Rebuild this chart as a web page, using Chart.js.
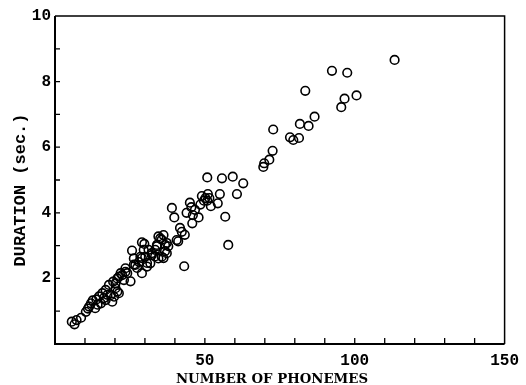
<!DOCTYPE html>
<html>
<head>
<meta charset="utf-8">
<script src="https://cdn.jsdelivr.net/npm/chart.js@4"></script>
<style>
html,body{margin:0;padding:0;background:#fff;}
#wrap{width:526px;height:385px;}
</style>
</head>
<body>
<div id="wrap"><canvas id="c" width="526" height="385"></canvas></div>
<script>
const phonemes = [
  5.6, 6.5, 7.2, 8.7, 10.3, 11.0, 11.4, 12.0, 12.6, 13.4, 13.8, 14.2, 14.7, 15.3, 15.8, 16.3,
  16.9, 16.9, 17.5, 18.0, 18.6, 19.1, 19.4, 19.7, 20.2, 20.2, 20.8, 20.8, 21.3, 21.3, 21.9, 22.4,
  23.0, 23.5, 23.5, 24.1, 25.2, 25.7, 26.3, 26.3, 26.8, 27.4, 28.0, 28.5, 29.0, 29.0, 29.0, 29.6,
  29.8, 30.1, 30.7, 30.7, 31.2, 31.8, 32.3, 32.3, 33.4, 33.4, 34.0, 34.0, 34.5, 34.5, 35.1, 35.6,
  35.6, 36.2, 36.2, 36.7, 36.7, 37.3, 37.3, 37.8,
  39.0, 39.8, 40.6, 41.1, 41.7, 42.3, 43.1, 43.3, 43.9, 45.0, 45.5, 45.8, 46.0, 46.7, 47.9, 48.5,
  49.0, 49.7, 50.2, 50.8, 51.0, 50.8, 51.5, 52.0, 54.3, 55.0, 55.7, 56.8, 57.8, 59.3, 60.7, 62.8,
  69.5, 69.8, 71.5, 72.6, 72.8, 78.4, 79.5, 81.4, 81.7, 83.5, 84.6, 86.6, 92.4, 95.5, 96.6, 97.5,
  100.6, 113.3
];
const durations = [
  0.68, 0.60, 0.73, 0.80, 0.98, 1.08, 1.14, 1.24, 1.33, 1.09, 1.36, 1.20, 1.45, 1.24, 1.55, 1.40,
  1.34, 1.65, 1.50, 1.80, 1.49, 1.29, 1.90, 1.44, 1.70, 1.85, 2.00, 1.60, 1.55, 2.05, 2.16, 2.10,
  1.95, 2.20, 2.31, 2.16, 1.91, 2.85, 2.42, 2.61, 2.41, 2.32, 2.50, 2.66, 2.16, 2.62, 3.10, 2.87,
  3.05, 2.66, 2.36, 2.47, 2.87, 2.46, 2.71, 2.77, 2.67, 2.87, 2.98, 3.02, 2.61, 3.28, 3.22, 2.66,
  3.18, 3.32, 2.62, 2.83, 3.02, 3.08, 2.77, 2.98,
  4.15, 3.86, 3.17, 3.13, 3.54, 3.42, 2.37, 3.33, 4.00, 4.31, 4.17, 3.68, 3.93, 4.09, 3.86, 4.25,
  4.51, 4.37, 4.45, 4.37, 4.57, 5.08, 4.45, 4.20, 4.29, 4.57, 5.05, 3.88, 3.02, 5.10, 4.57, 4.90,
  5.40, 5.51, 5.62, 5.89, 6.54, 6.30, 6.22, 6.28, 6.71, 7.72, 6.65, 6.93, 8.33, 7.22, 7.48, 8.27,
  7.58, 8.66
];
const xTickLabels = [50, 100, 150];
const yTickLabels = [2, 4, 6, 8, 10];
const xTitle = 'NUMBER OF PHONEMES';
const yTitle = 'DURATION (sec.)';

const points = phonemes.map((x, i) => ({ x: x, y: durations[i] }));

const framePlugin = {
  id: 'frame',
  afterDraw(chart) {
    const ctx = chart.ctx;
    const a = chart.chartArea;
    const xs = chart.scales.x, ys = chart.scales.y;
    ctx.save();
    ctx.strokeStyle = '#000';
    ctx.lineWidth = 1.5;
    ctx.beginPath();
    ctx.moveTo(a.left, a.top); ctx.lineTo(a.right, a.top); ctx.lineTo(a.right, a.bottom);
    ctx.stroke();
    ctx.lineWidth = 2;
    ctx.beginPath();
    ctx.moveTo(a.left, a.top); ctx.lineTo(a.left, a.bottom); ctx.lineTo(a.right, a.bottom);
    ctx.stroke();
    ctx.lineWidth = 1.3;
    ctx.beginPath();
    for (let v = 10; v < 150; v += 10) {
      const px = xs.getPixelForValue(v);
      ctx.moveTo(px, a.bottom); ctx.lineTo(px, a.bottom - 6);
    }
    for (let v = 1; v < 10; v += 1) {
      const py = ys.getPixelForValue(v);
      ctx.moveTo(a.left, py); ctx.lineTo(a.left + 5, py);
    }
    ctx.stroke();
    // axis titles
    ctx.fillStyle = '#000';
    ctx.font = 'bold 13.3px "DejaVu Serif"';
    ctx.textAlign = 'center';
    ctx.textBaseline = 'alphabetic';
    ctx.fillText(xTitle, 272, 383);
    ctx.font = 'bold 17px "Liberation Mono"';
    ctx.translate(25, 190);
    ctx.rotate(-Math.PI / 2);
    ctx.fillText(yTitle, 0, 0);
    ctx.restore();
  }
};

new Chart(document.getElementById('c'), {
  type: 'scatter',
  data: {
    datasets: [{
      data: points,
      pointStyle: 'circle',
      pointRadius: 4.3,
      pointHoverRadius: 4.3,
      borderColor: '#000',
      backgroundColor: 'rgba(0,0,0,0)',
      borderWidth: 1.6
    }]
  },
  options: {
    responsive: false,
    animation: false,
    events: [],
    layout: { padding: { top: 16, right: 15, left: 0, bottom: 0 } },
    plugins: { legend: { display: false }, tooltip: { enabled: false } },
    scales: {
      x: {
        type: 'linear', min: 0, max: 150,
        grid: { display: false, drawTicks: false },
        border: { display: false },
        afterFit(s) { s.height = 41; },
        afterBuildTicks(s) { s.ticks = xTickLabels.map(v => ({ value: v })); },
        ticks: {
          padding: 7, color: '#000', maxRotation: 0, autoSkip: false,
          font: { family: '"Liberation Mono"', size: 16, weight: 'bold' }
        }
      },
      y: {
        type: 'linear', min: 0, max: 10,
        grid: { display: false, drawTicks: false },
        border: { display: false },
        afterFit(s) { s.width = 55; },
        afterBuildTicks(s) { s.ticks = yTickLabels.map(v => ({ value: v })); },
        ticks: {
          padding: 4, color: '#000', autoSkip: false,
          font: { family: '"Liberation Mono"', size: 16, weight: 'bold' }
        }
      }
    }
  },
  plugins: [framePlugin]
});
</script>
</body>
</html>
